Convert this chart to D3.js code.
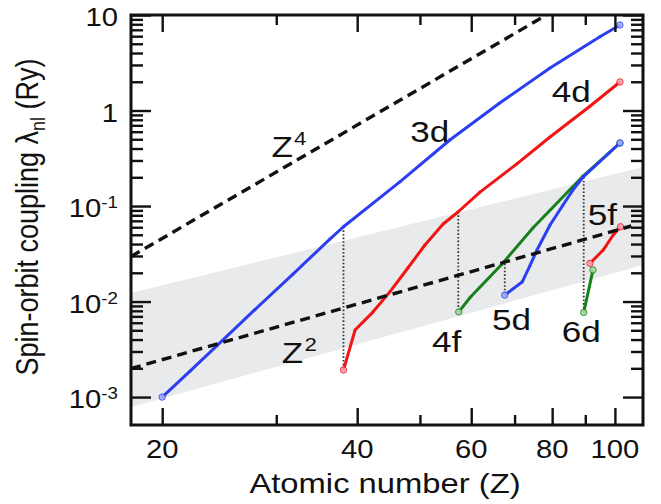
<!DOCTYPE html>
<meta charset="utf-8">
<style>
body{margin:0;background:#fff;}
text{font-family:"Liberation Sans",Arial,sans-serif;fill:#111;}
.tick line{stroke:#111;stroke-width:2.4px;}
.domain{display:none;}
</style>
<body>
<script src="https://d3js.org/d3.v7.min.js"></script>
<script>
// axis ticks
var xMajor=[20,40,60,80,100];
var xMinor=[30,50,70,90];
var yMajor=[1e-3,1e-2,1e-1,1,10];
var yLabels=[["10","-3"],["10","-2"],["10","-1"],["1",""],["10",""]];

// curves [Z, lambda]
var s3d=[[20,0.001],[22.1,0.00188],[24.3,0.00345],[27.8,0.00822],[31.9,0.0196],[36.3,0.0451],[38.1,0.0607],[46.6,0.180],[55.6,0.491],[66.4,1.20],[79.4,2.79],[94.8,5.93],[101.8,7.85]];
var s4d=[[38.1,0.00192],[39.7,0.00503],[42.3,0.00776],[44.9,0.01256],[47.9,0.02244],[50.9,0.0391],[54.3,0.0649],[57.3,0.0871],[61.9,0.140],[70.5,0.275],[79.4,0.528],[91.5,1.11],[101.8,1.99]];
var s4f=[[57.4,0.0078],[59.8,0.0111],[66.9,0.0246],[74.7,0.0589],[89.3,0.206],[101.8,0.457]];
var s5d=[[67.6,0.0117],[71.9,0.016],[73.9,0.0236],[75.8,0.0346],[79.4,0.0633],[83.1,0.102],[86.1,0.147],[89.3,0.201],[101.8,0.457]];
var s6d=[[89.5,0.0077],[92.5,0.0214]];
var s5f=[[91.5,0.0251],[95.9,0.0346],[99.4,0.0497],[102,0.0607]];

// guides
var z4=[[17.9,0.0296],[78.4,10]];
var z2=[[17.9,0.00199],[106,0.0618]];
var bandTop=[[17.9,0.01227],[110.5,0.256]];
var bandBottom=[[17.9,0.000786],[110.5,0.0241]];
// vertical dotted joins [Z, upper, lower]
var drops=[[38.1,0.0607,0.00192],[57.3,0.0871,0.0078],[67.6,0.025,0.0117],[89.5,0.201,0.0077]];

// labels [text, superscript, Z, lambda at baseline]
var labels=[["Z","4",29.5,0.326],["3d","",48.3,0.468],["4d","",79.9,1.23],["Z","2",30.6,0.00227],
  ["4f","",52.2,0.00296],["5d","",64.6,0.00504],["6d","",82.8,0.00377],["5f","",90.8,0.0633]];

var blue="#2b3ff0", red="#f01616", green="#16801a";
var SX=1.17;

var svg=d3.select("body").append("svg").attr("width",661).attr("height",504);
var L=131,R=643,T=15,B=425;
var x=d3.scaleLog().domain([17.9,110.5]).range([L,R]);
var y=d3.scaleLog().domain([5.1e-4,10]).range([B,T]);

svg.append("clipPath").attr("id","clip").append("rect")
  .attr("x",L).attr("y",T).attr("width",R-L).attr("height",B-T);
var plot=svg.append("g").attr("clip-path","url(#clip)");

var line=d3.line().x(d=>x(d[0])).y(d=>y(d[1]));

// grey band
plot.append("path")
  .attr("d",line(bandTop.concat(bandBottom.slice().reverse()))+"Z")
  .attr("fill","#e9eaec");

// dotted drop lines
plot.selectAll(".drop").data(drops).join("line")
  .attr("x1",d=>x(d[0])).attr("x2",d=>x(d[0]))
  .attr("y1",d=>y(d[1])).attr("y2",d=>y(d[2]))
  .attr("stroke","#333").attr("stroke-width",1.8).attr("stroke-dasharray","1.6,2");

var curves=[[s3d,blue,"#9fb0ff"],[s4d,red,"#f7a8b8"],[s4f,green,"#a8e0a0"],[s5d,blue,"#9fb0ff"],[s6d,green,"#a8e0a0"],[s5f,red,"#f7a8b8"]];
curves.forEach(function(c){
  plot.append("path").attr("d",line(c[0])).attr("fill","none")
    .attr("stroke",c[1]).attr("stroke-width",3).attr("stroke-linejoin","round");
  plot.selectAll(null).data(c[0]).join("circle")
    .attr("cx",d=>x(d[0])).attr("cy",d=>y(d[1])).attr("r",2)
    .attr("fill",c[1]).attr("opacity",0.35);
  var ends=[c[0][0],c[0][c[0].length-1]];
  plot.selectAll(null).data(ends).join("circle")
    .attr("cx",d=>x(d[0])).attr("cy",d=>y(d[1])).attr("r",3.2)
    .attr("fill",c[2]).attr("stroke",c[1]).attr("stroke-width",1).attr("opacity",0.85);
});

// power-law guides
[z4,z2].forEach(function(d){
  plot.append("path").attr("d",line(d)).attr("fill","none")
    .attr("stroke","#111").attr("stroke-width",3.4).attr("stroke-dasharray","10,6");
});

// axes (ticks pointing inward)
function axis(gen,tx,ty,vals,len){
  svg.append("g").attr("transform","translate("+tx+","+ty+")")
    .call(gen.tickValues(vals).tickSize(len).tickSizeOuter(0).tickFormat(""));
}
axis(d3.axisBottom(x),0,B,xMajor,-17);
axis(d3.axisBottom(x),0,B,xMinor,-10);
axis(d3.axisTop(x),0,T,xMajor,-17);
axis(d3.axisTop(x),0,T,xMinor,-10);
var yMinor=y.ticks().filter(v=>yMajor.every(m=>Math.abs(v/m-1)>1e-6)&&v>=1e-3);
axis(d3.axisLeft(y),L,0,yMajor,-20);
axis(d3.axisLeft(y),L,0,yMinor,-12);
axis(d3.axisRight(y),R,0,yMajor,-20);
axis(d3.axisRight(y),R,0,yMinor,-12);

svg.append("rect").attr("x",L).attr("y",T).attr("width",R-L).attr("height",B-T)
  .attr("fill","none").attr("stroke","#111").attr("stroke-width",3);

// tick labels
svg.selectAll(".xl").data(xMajor).join("text")
  .attr("transform",d=>"translate("+x(d)+",458) scale("+SX+",1)")
  .attr("text-anchor","middle").attr("font-size",25).text(d=>d);

yMajor.forEach(function(v,i){
  var t=svg.append("text").attr("transform","translate(118,"+(y(v)+11)+") scale("+SX+",1)")
    .attr("text-anchor","end").attr("font-size",25);
  t.append("tspan").text(yLabels[i][0]);
  if(yLabels[i][1]) t.append("tspan").attr("font-size",16).attr("dy",-9).text(yLabels[i][1]);
});

// curve labels
labels.forEach(function(l){
  var t=svg.append("text").attr("transform","translate("+x(l[2])+","+y(l[3])+") scale("+SX+",1)")
    .attr("font-size",30);
  t.append("tspan").text(l[0]);
  if(l[1]) t.append("tspan").attr("font-size",19).attr("dy",-12).attr("dx",1).text(l[1]);
});

// axis titles
svg.append("text").attr("transform","translate("+((L+R)/2-2)+",493) scale("+SX+",1)")
  .attr("text-anchor","middle").attr("font-size",28).text("Atomic number (Z)");

var yt=svg.append("text").attr("transform","translate(38,217) scale("+SX+",1) rotate(-90)")
  .attr("text-anchor","middle").attr("font-size",27);
yt.append("tspan").text("Spin-orbit coupling \u03bb");
yt.append("tspan").attr("font-size",18).attr("dy",6).text("nl");
yt.append("tspan").attr("dy",-6).text(" (Ry)");
</script>
</body>
